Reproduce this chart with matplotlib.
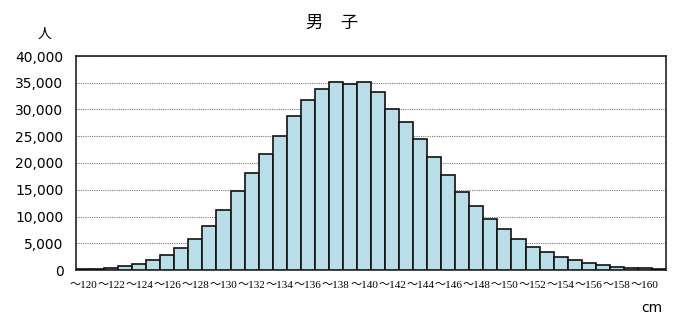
import matplotlib.pyplot as plt
import numpy as np

# height classes (cm) and number of boys
heights = list(range(120, 162))
counts = [100, 250, 450, 750, 1150, 1800, 2750, 4150, 5800, 8250,
          11250, 14750, 18200, 21700, 25050, 28800, 31800, 33800, 35100, 34850,
          35100, 33200, 30100, 27700, 24400, 21050, 17700, 14600, 12050, 9550,
          7750, 5850, 4300, 3300, 2450, 1800, 1250, 880, 620, 380,
          300, 190]
tick_labels = ['～%d' % h for h in heights[::2]]
yticks = list(range(0, 40001, 5000))

fig = plt.figure(figsize=(6.77, 3.22), dpi=100)
ax = fig.add_axes([76 / 677, 52 / 322, 590 / 677, 214 / 322])

x = np.arange(len(counts))
ax.bar(x, counts, width=1.0, color='#b9dee7', edgecolor='#111111', linewidth=1.2, zorder=3)

ax.set_xlim(-0.5, len(counts) - 0.5)
ax.set_ylim(0, 40000)
ax.set_yticks(yticks)
ax.set_yticklabels(['{:,}'.format(v) for v in yticks], fontsize=10, family='DejaVu Sans')
ax.set_xticks(x[::2])
ax.set_xticklabels(tick_labels, fontsize=8, family=['Liberation Serif', 'Noto Sans CJK JP'])
ax.tick_params(axis='both', length=0)
ax.tick_params(axis='y', pad=9)
ax.tick_params(axis='x', pad=8)
ax.grid(axis='y', linestyle=(0, (1, 1)), color='#777777', linewidth=0.8, zorder=0)

for s in ax.spines.values():
    s.set_linewidth(1.2)
    s.set_color('#222222')

fig.text(332 / 677, 1 - 23 / 322, '男　子', ha='center', va='center', fontsize=12.5,
         family=['Noto Sans CJK JP'])
fig.text(45 / 677, 1 - 34 / 322, '人', ha='center', va='center', fontsize=10,
         family=['Noto Sans CJK JP'])
fig.text(652 / 677, 1 - 308 / 322, 'cm', ha='center', va='center', fontsize=10,
         family='DejaVu Sans')

fig.savefig('out.png', dpi=100)
